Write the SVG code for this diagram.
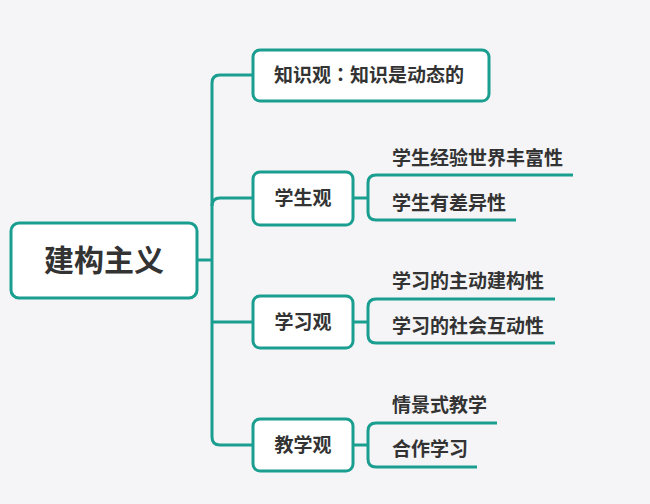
<svg xmlns="http://www.w3.org/2000/svg" width="650" height="504" viewBox="0 0 650 504">
<style>
.bg{fill:#f5f5f7}
.box{fill:#ffffff;stroke:#1a9e90;stroke-width:3}
.ln{fill:none;stroke:#1a9e90;stroke-width:3;stroke-linecap:butt}
text{font-family:"Noto Sans CJK SC","Noto Sans",sans-serif;font-weight:bold;fill:#333333}
.root{font-size:30px}
.t{font-size:19px}
.s{font-size:19px}
.tc{font-family:"Noto Sans CJK TC","Noto Sans",sans-serif}
</style>
<rect class="bg" x="0" y="0" width="650" height="504"/>
<g id="connectors">
<path class="ln" d="M197,260 H212"/>
<path class="ln" d="M252,75 H220 Q212,75 212,83 V437 Q212,445 220,445 H253"/>
<path class="ln" d="M212,206 Q212,198 220,198 H253"/>
<path class="ln" d="M212,322 H253"/>
<path class="ln" d="M353,198 H368"/>
<path class="ln" d="M573,175 H376 Q368,175 368,183 V212 Q368,220 376,220 H516"/>
<path class="ln" d="M353,322 H368"/>
<path class="ln" d="M555,299 H376 Q368,299 368,307 V335 Q368,343 376,343 H555"/>
<path class="ln" d="M353,445 H368"/>
<path class="ln" d="M497,423 H376 Q368,423 368,431 V459 Q368,467 376,467 H477"/>
</g>
<g id="root">
<rect class="box" x="11" y="223" width="186" height="75" rx="8"/>
<text class="root" x="104" y="271" text-anchor="middle">建构主义</text>
</g>
<g id="n1">
<rect class="box" x="253" y="50" width="236" height="51" rx="7"/>
<text class="t" x="369" y="82" text-anchor="middle">知识观<tspan class="tc">：</tspan>知识是动态的</text>
</g>
<g id="n2">
<rect class="box" x="253" y="172" width="100" height="53" rx="7"/>
<text class="t" x="303" y="205" text-anchor="middle">学生观</text>
</g>
<g id="n2a"><text class="s" x="392" y="165">学生经验世界丰富性</text></g>
<g id="n2b"><text class="s" x="392" y="210">学生有差异性</text></g>
<g id="n3">
<rect class="box" x="253" y="296" width="100" height="52" rx="7"/>
<text class="t" x="303" y="329" text-anchor="middle">学习观</text>
</g>
<g id="n3a"><text class="s" x="392" y="288">学习的主动建构性</text></g>
<g id="n3b"><text class="s" x="392" y="333">学习的社会互动性</text></g>
<g id="n4">
<rect class="box" x="253" y="419" width="100" height="52" rx="7"/>
<text class="t" x="303" y="452" text-anchor="middle">教学观</text>
</g>
<g id="n4a"><text class="s" x="392" y="412">情景式教学</text></g>
<g id="n4b"><text class="s" x="392" y="456">合作学习</text></g>
</svg>
